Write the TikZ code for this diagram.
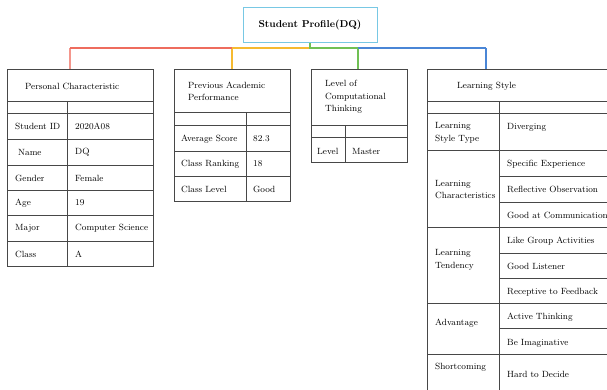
\documentclass[tikz,border=0pt]{standalone}
\usepackage{tikz}
\usetikzlibrary{positioning}
\definecolor{titleblue}{RGB}{120,200,228}
\definecolor{busred}{RGB}{238,108,94}
\definecolor{dropred}{RGB}{244,150,140}
\definecolor{busorange}{RGB}{246,186,48}
\definecolor{busgreen}{RGB}{112,192,84}
\definecolor{busblue}{RGB}{74,134,214}
\tikzset{
    cell/.style={anchor=west,inner sep=0pt,align=left,font=\fontsize{9}{12.5}\selectfont},
    grid/.style={draw=black!72,line width=1pt},
    bus/.style={line width=2.6pt},
    drop/.style={line width=1.4pt},
  }

\begin{document}
\begin{tikzpicture}[x=1pt,y=-1pt]
				  \useasboundingbox (0,0) rectangle (607,389);
				  \clip (0,0) rectangle (607,389);
				  %title
				  \node[draw=titleblue,line width=1pt,minimum width=134pt,minimum height=35pt,
				        font=\bfseries\fontsize{10}{12}\selectfont](title) at (310,24.5) {Student Profile(DQ)};
				  \coordinate (bus) at (310,48);
				  \coordinate (t1) at (70,69);
				  \coordinate (t2) at (232,69);
				  \coordinate (t3) at (358,69);
				  \coordinate (t4) at (486,69);
				  %branches
				  \draw[dropred,drop] (t1) -- (t1|-bus);
				  \draw[busorange,drop] (t2) -- (t2|-bus);
				  \draw[busgreen,drop] (t3) -- (t3|-bus);
				  \draw[busblue,drop] (t4) -- (t4|-bus);
				  \draw[busred,bus] (t1|-bus) -- (t2|-bus);
				  \draw[busorange,bus] (t2|-bus) -- (bus);
				  \draw[busgreen,bus] (title.south) -- (bus) -- (t3|-bus);
				  \draw[busblue,bus] (t3|-bus) -- (t4|-bus);
				  %personal characteristic
				  \draw[grid] (7,69) rectangle (153,266);
				  \foreach \y in {101,113,139,165,190,215,241} \draw[grid] (7,\y) -- (153,\y);
				  \draw[grid] (67,101) -- (67,266);
				  \node[cell] (pc) at (25,86) {Personal Characteristic};
				  \foreach \k/\y/\a/\b in {sid/126/Student ID/2020A08,gen/178/Gender/Female,age/203/Age/19,maj/228/Major/Computer Science,cls/254/Class/A}
				    {\node[cell] (\k a) at (15,\y) {\a};
				     \node[cell] (\k b) at (75,\y) {\b};}
				  \node[cell] (nama) at (18,152) {Name};
				  \node[cell] (namb) at (75,152) {DQ};
				  %previous academic performance
				  \draw[grid] (174,69) rectangle (290,201);
				  \foreach \y in {112,125,151,176} \draw[grid] (174,\y) -- (290,\y);
				  \draw[grid] (246,112) -- (246,201);
				  \node[cell] (pap) at (188,91.5) {Previous Academic\\Performance};
				  \foreach \k/\y/\a/\b in {avg/139/Average Score/82.3,rnk/164/Class Ranking/18,lvl/189/Class Level/Good}
				    {\node[cell] (\k a) at (181,\y) {\a};
				     \node[cell] (\k b) at (253,\y) {\b};}
				  %computational thinking
				  \draw[grid] (311,69) rectangle (407,162);
				  \foreach \y in {125,137} \draw[grid] (311,\y) -- (407,\y);
				  \draw[grid] (345,125) -- (345,162);
				  \node[cell] (lct) at (325,97) {Level of\\Computational\\Thinking};
				  \node[cell] (ctla) at (317,151) {Level};
				  \node[cell] (ctlb) at (352,151) {Master};
				  %learning style
				  \draw[grid] (427,69) rectangle (640,420);
				  \foreach \y in {101,113,150,227,303,354} \draw[grid] (427,\y) -- (640,\y);
				  \foreach \y in {176,202,253,278,328} \draw[grid] (499,\y) -- (640,\y);
				  \draw[grid] (499,101) -- (499,420);
				  \node[cell] (ls) at (457,86) {Learning Style};
				  \node[cell] (lsta) at (435,133) {Learning\\Style Type};
				  \node[cell] (lca) at (435,189.5) {Learning\\Characteristics};
				  \node[cell] (lta) at (435,260) {Learning\\Tendency};
				  \node[cell] (adva) at (435,323) {Advantage};
				  \node[cell] (shca) at (435,367) {Shortcoming};
				  \foreach \k/\y/\b in {lstb/127/Diverging,lcb1/164/Specific Experience,lcb2/189/Reflective Observation,lcb3/215/Good at Communication,ltb1/241/Like Group Activities,ltb2/266/Good Listener,ltb3/292/Receptive to Feedback,advb1/317/Active Thinking,advb2/343/Be Imaginative,shcb/374/Hard to Decide}
				    \node[cell] (\k) at (507,\y) {\b};
\end{tikzpicture}
\end{document}
